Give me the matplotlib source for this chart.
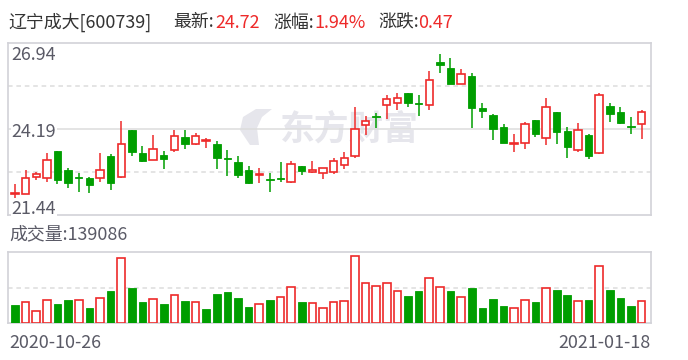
import matplotlib
matplotlib.use('Agg')
import matplotlib.pyplot as plt
from matplotlib.patches import Rectangle, Polygon

plt.rcParams['font.family'] = ['Noto Sans CJK SC', 'DejaVu Sans']

# ---- data ----
stock_name = '辽宁成大'
stock_code = '600739'
start_date = '2020-10-26'
end_date = '2021-01-18'
prev_close0 = 22.20          # close of the day before the first candle
price_top = 26.94
price_bottom = 21.44
vol_top = 453000

opens = [22.11, 22.10, 22.64, 22.61, 23.48, 22.88, 22.63, 22.62, 22.61, 23.32,
         22.64, 24.15, 23.41, 23.18, 23.35, 23.50, 23.93, 23.71, 23.80, 23.70,
         23.26, 23.13, 22.88, 22.71, 22.56, 22.59, 22.50, 23.00, 22.80, 22.77,
         22.82, 23.02, 23.33, 24.30, 24.58, 24.94, 25.02, 25.33, 24.99, 24.94,
         26.32, 26.13, 25.61, 25.87, 24.85, 24.63, 24.24, 23.71, 23.73, 24.47,
         23.89, 24.72, 24.12, 23.50, 23.99, 23.43, 24.92, 24.72, 24.28, 24.33]
closes = [22.12, 22.61, 22.74, 23.18, 22.57, 22.47, 22.62, 22.41, 22.88, 22.47,
          23.69, 23.46, 23.17, 23.54, 23.22, 23.95, 23.71, 23.95, 23.81, 23.26,
          23.24, 22.73, 22.47, 22.75, 22.55, 22.58, 23.06, 22.85, 22.86, 22.93,
          23.16, 23.26, 24.17, 24.43, 24.56, 25.13, 25.16, 25.00, 24.98, 25.73,
          26.21, 25.63, 25.94, 24.86, 24.77, 24.19, 23.72, 23.73, 24.33, 24.03,
          24.87, 24.10, 23.62, 24.15, 23.33, 25.27, 24.67, 24.38, 24.25, 24.72]
highs = [22.43, 22.88, 22.82, 23.41, 23.48, 22.94, 22.79, 22.66, 23.42, 23.38,
         24.44, 24.15, 23.64, 23.99, 23.48, 24.16, 24.15, 24.04, 23.91, 23.80,
         23.51, 23.32, 23.00, 22.94, 22.77, 23.13, 23.16, 23.00, 23.16, 22.93,
         23.26, 23.45, 24.88, 24.60, 24.70, 25.27, 25.34, 25.33, 25.27, 26.03,
         26.57, 26.45, 26.10, 25.96, 25.01, 24.66, 24.34, 24.02, 24.40, 24.47,
         25.17, 24.72, 24.24, 24.37, 24.02, 25.33, 25.01, 24.88, 24.57, 24.78]
lows = [21.97, 22.10, 22.55, 22.50, 22.43, 22.31, 22.18, 22.15, 22.50, 22.24,
        22.61, 23.32, 23.14, 23.18, 22.92, 23.44, 23.54, 23.67, 23.57, 22.92,
        22.69, 22.61, 22.43, 22.47, 22.18, 22.50, 22.47, 22.73, 22.77, 22.60,
        22.76, 22.92, 23.27, 23.99, 24.22, 24.51, 24.80, 24.89, 24.60, 24.80,
        25.98, 25.63, 25.61, 24.22, 24.54, 23.84, 23.72, 23.46, 23.56, 23.94,
        23.68, 23.71, 23.27, 23.46, 23.24, 23.40, 24.42, 24.34, 24.03, 23.87]
volumes = [115900, 134800, 78000, 145400, 122200, 147500, 147500, 96900, 160100, 204400,
           410900, 223300, 134800, 151700, 122200, 177000, 141200, 134800, 90600, 185400,
           198100, 160100, 103200, 120100, 147500, 164300, 227600, 134800, 128500, 94800,
           132700, 141200, 425600, 252800, 233900, 255000, 204400, 172800, 204400, 284400,
           227600, 204400, 164300, 223300, 96900, 153800, 109600, 94800, 145400, 134800,
           221200, 210700, 179100, 139100, 147500, 360300, 210700, 160100, 109600, 139086]

RED = '#ee2a2a'
GREEN = '#009e00'
GRID = '#dcdcdc'
BORDER = '#d2d2d8'
LABEL = '#5a5a66'
FS = 12.9

W, H = 688, 360
fig = plt.figure(figsize=(W / 100, H / 100), dpi=100)


def box(x0, y0, x1, y1):
    # pixel box (top-left origin) -> figure fraction rect
    return [x0 / W, 1 - y1 / H, (x1 - x0) / W, (y1 - y0) / H]


ax = fig.add_axes(box(8, 42.5, 651, 215))
axv = fig.add_axes(box(8, 251.7, 651, 323.3))

n = len(closes)
xs = list(range(n))
for a in (ax, axv):
    a.set_xlim(-0.66, n - 1 + 0.88)
    a.set_xticks([])
    a.set_yticks([])
    for s in a.spines.values():
        s.set_color(BORDER)
        s.set_linewidth(1.2)

ax.set_ylim(price_bottom, price_top)
axv.set_ylim(0, vol_top)

# grid lines
mid = (price_top + price_bottom) / 2
q = (price_top - price_bottom) / 4
ax.axhline(mid, color=GRID, lw=1.1, zorder=1)
for yv in (mid + q, mid - q):
    ax.axhline(yv, color=GRID, lw=1.1, ls=(0, (3, 2.5)), zorder=1)
axv.axhline(vol_top / 2, color=GRID, lw=1.1, ls=(0, (3, 2.5)), zorder=1)

# watermark
ax.text(0.423, 0.50, '东方财富', transform=ax.transAxes, fontsize=25,
        fontweight='bold', color='#e6e6ec', va='center', ha='left', zorder=0.5)
logo = [(250, 145), (240, 130), (243, 117), (256, 109), (272, 109),
        (262, 117), (257, 128), (259, 145)]
logo_ax = [((px - 8) / 643, (215 - py) / 172.5) for px, py in logo]
ax.add_patch(Polygon(logo_ax, closed=True, transform=ax.transAxes,
                     facecolor='#e6e6ec', edgecolor='none', zorder=0.5))

# candles
bw = 0.70
for i in xs:
    o, c, h, l = opens[i], closes[i], highs[i], lows[i]
    lo_b, hi_b = min(o, c), max(o, c)
    bh = max(hi_b - lo_b, 0.025)
    if c > o:
        ax.vlines(i, l, lo_b, color=RED, lw=1.1, zorder=2)
        ax.vlines(i, hi_b, h, color=RED, lw=1.1, zorder=2)
        ax.add_patch(Rectangle((i - bw / 2, lo_b), bw, bh, facecolor='white',
                               edgecolor=RED, lw=1.2, zorder=3))
    else:
        ax.vlines(i, l, h, color=GREEN, lw=1.1, zorder=2)
        ax.add_patch(Rectangle((i - bw / 2, lo_b), bw, bh, facecolor=GREEN,
                               edgecolor=GREEN, lw=0.6, zorder=3))

# volume bars, coloured by change against previous close
prev = [prev_close0] + closes[:-1]
vw = 0.72
for i in xs:
    if closes[i] >= prev[i]:
        axv.add_patch(Rectangle((i - vw / 2, 0), vw, volumes[i], facecolor='white',
                                edgecolor=RED, lw=1.2, zorder=3))
    else:
        axv.add_patch(Rectangle((i - vw / 2, 0), vw, volumes[i], facecolor=GREEN,
                                edgecolor=GREEN, lw=0.6, zorder=3))

# price labels
for val, yb in ((price_top, 60), (mid, 137), (price_bottom, 214)):
    fig.text(11.5 / W, 1 - yb / H, '%.2f' % val, fontsize=FS, color=LABEL,
             va='baseline', ha='left', zorder=5,
             bbox=dict(facecolor='white', edgecolor='none', pad=0.5))

# header
last = closes[-1]
chg = last - closes[-2]
pct = chg / closes[-2] * 100
yb = 1 - 27.5 / H
parts = [(8, '%s[%s]' % (stock_name, stock_code), '#333333'),
         (173, '最新:', '#333333'), (215, '%.2f' % last, RED),
         (273, '涨幅:', '#333333'), (314, '%.2f%%' % pct, RED),
         (378, '涨跌:', '#333333'), (418, '%.2f' % chg, RED)]
for px, s, col in parts:
    fig.text(px / W, yb, s, fontsize=FS, color=col, va='baseline', ha='left')

fig.text(9 / W, 1 - 239.5 / H, '成交量:%d' % volumes[-1], fontsize=FS,
         color=LABEL, va='baseline', ha='left')
fig.text(9 / W, 1 - 348 / H, start_date, fontsize=FS, color=LABEL,
         va='baseline', ha='left')
fig.text(651 / W, 1 - 348 / H, end_date, fontsize=FS, color=LABEL,
         va='baseline', ha='right')

fig.savefig('out.png', dpi=100)
